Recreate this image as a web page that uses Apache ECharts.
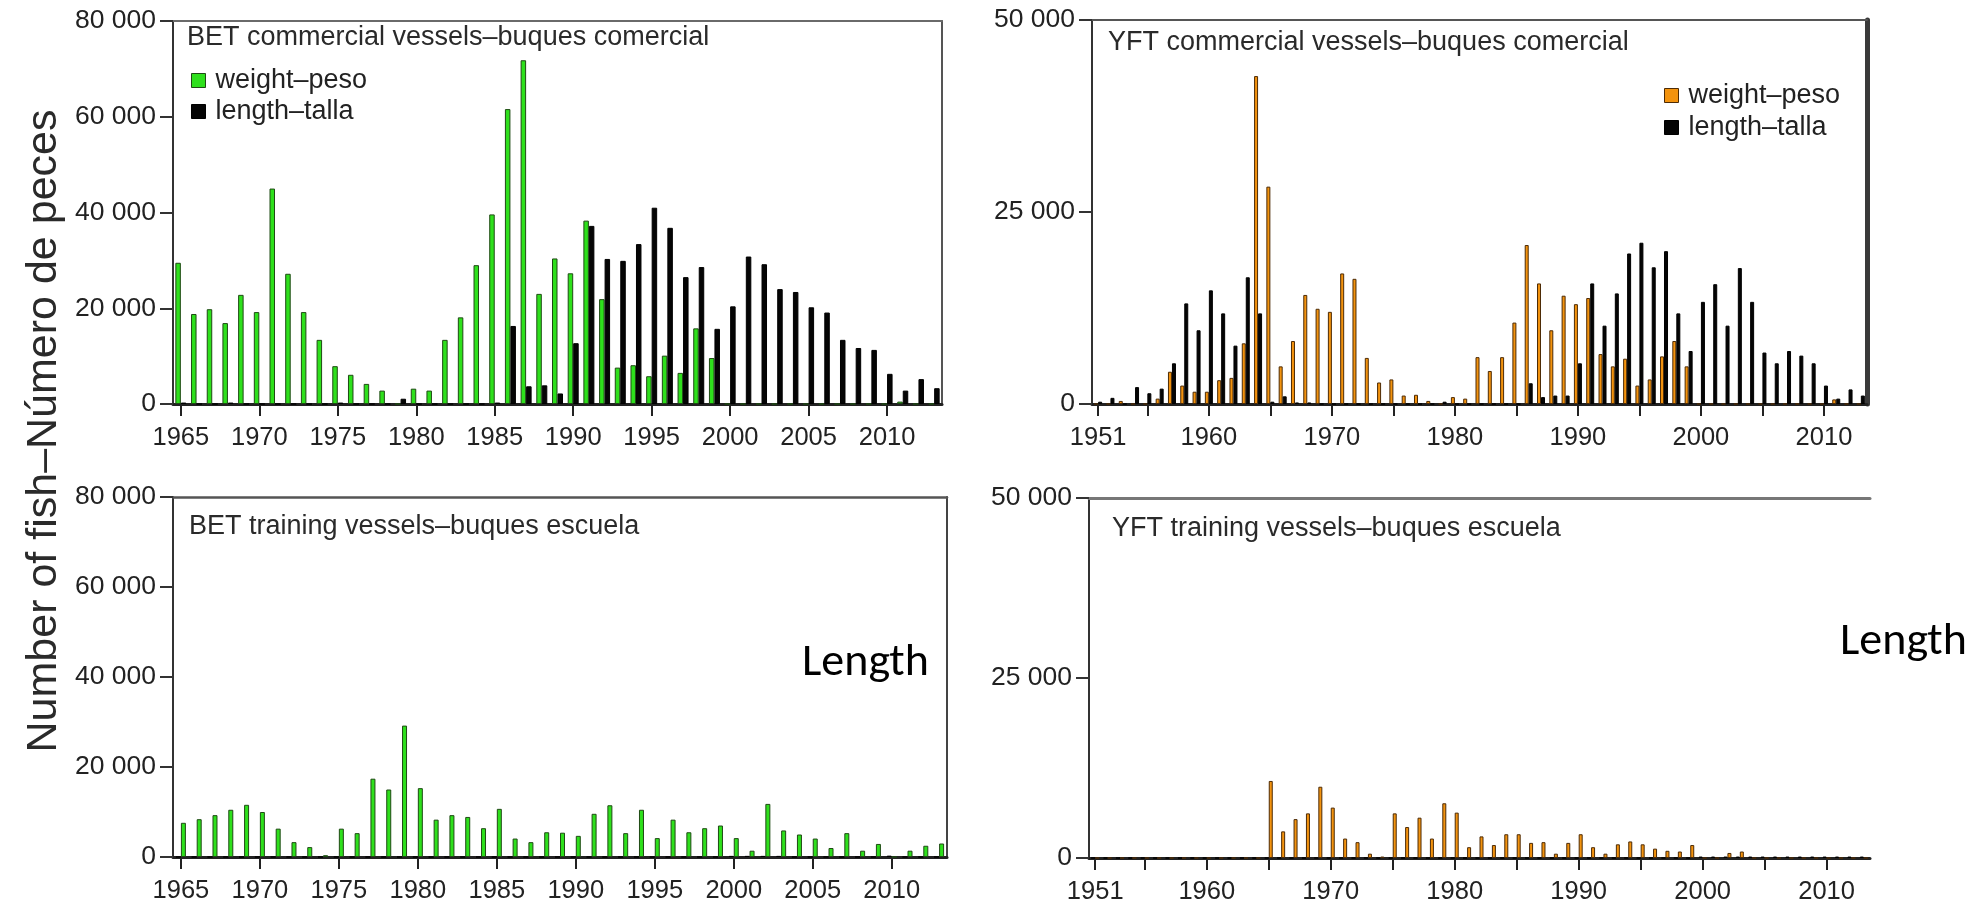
<!DOCTYPE html>
<html>
<head>
<meta charset="utf-8">
<script src="https://cdn.jsdelivr.net/npm/echarts@6/dist/echarts.min.js"></script>
<style>
  html, body { margin: 0; padding: 0; background: #ffffff; }
  #chart { width: 1980px; height: 909px; }
</style>
</head>
<body>
<div id="chart"></div>
<script>
// Years on the bigeye (BET) panels
const betYears = ['1965','1966','1967','1968','1969','1970','1971','1972','1973','1974',
  '1975','1976','1977','1978','1979','1980','1981','1982','1983','1984',
  '1985','1986','1987','1988','1989','1990','1991','1992','1993','1994',
  '1995','1996','1997','1998','1999','2000','2001','2002','2003','2004',
  '2005','2006','2007','2008','2009','2010','2011','2012','2013'];

// Years on the yellowfin (YFT) panels
const yftYears = ['1951','1952','1953','1954','1955','1956','1957','1958','1959','1960',
  '1961','1962','1963','1964','1965','1966','1967','1968','1969','1970',
  '1971','1972','1973','1974','1975','1976','1977','1978','1979','1980',
  '1981','1982','1983','1984','1985','1986','1987','1988','1989','1990',
  '1991','1992','1993','1994','1995','1996','1997','1998','1999','2000',
  '2001','2002','2003','2004','2005','2006','2007','2008','2009','2010',
  '2011','2012','2013'];

// BET, commercial vessels (number of fish)
const betComWeight = [29500,18800,19800,16900,22800,19200,45000,27200,19200,13400,
  7900,6100,4200,2800,0,3200,2800,13400,18100,29000,
  39600,61600,71800,23000,30400,27300,38300,21900,7600,8100,
  5800,10100,6500,15800,9600,0,0,0,0,0,
  0,0,0,0,0,0,500,0,0];
const betComLength = [300,0,0,300,0,0,0,0,0,0,
  300,0,0,0,1100,0,0,0,0,0,
  300,16300,3700,3900,2200,12700,37200,30300,29900,33400,
  41000,36800,26500,28600,15700,20400,30800,29200,24000,23400,
  20200,19100,13400,11700,11300,6300,2800,5200,3300];

// BET, training vessels
const betTrnWeight = [7600,8400,9300,10500,11600,10000,6300,3300,2200,400,
  6300,5300,17400,15000,29200,15300,8300,9300,8900,6400,
  10700,4100,3300,5500,5400,4700,9600,11500,5300,10500,
  4200,8300,5500,6400,7000,4200,1400,11800,5900,5000,
  4100,2000,5300,1400,2900,0,1400,2500,3000];
const betTrnLength = [0,0,0,0,0,0,0,0,0,0,
  0,0,0,0,0,0,0,0,0,0,
  0,0,0,0,0,0,0,0,0,0,
  0,0,0,0,0,250,250,250,250,0,
  0,0,0,0,0,300,0,0,0];

// YFT, commercial vessels
const yftComWeight = [0,0,400,0,0,700,4200,2400,1600,1600,
  3100,3400,7900,42700,28300,4900,8200,14200,12400,12000,
  17000,16300,6000,2800,3200,1100,1200,400,0,900,
  700,6100,4300,6100,10600,20700,15700,9600,14100,13000,
  13800,6500,4900,5900,2400,3200,6200,8200,4900,0,
  0,0,0,0,0,0,0,0,0,0,
  600,0,0];
const yftComLength = [300,800,0,2200,1400,2000,5300,13100,9600,14800,
  11800,7600,16500,11800,300,1000,200,200,0,0,
  0,0,0,0,0,0,0,0,300,0,
  0,0,0,0,0,2700,900,1100,1100,5300,
  15700,10200,14400,19600,21000,17800,19900,11800,6900,13300,
  15600,10200,17700,13300,6700,5300,6900,6300,5300,2400,
  700,1900,1100];

// YFT, training vessels
const yftTrnWeight = [0,0,0,0,0,0,0,0,0,0,
  0,0,0,0,10700,3700,5400,6200,9900,7000,
  2700,2200,600,200,6200,4300,5600,2700,7600,6300,
  1500,3000,1800,3300,3300,2100,2200,600,2100,3300,
  1500,600,1900,2300,1900,1300,1000,900,1800,0,
  0,700,900,0,0,0,0,0,0,0,
  0,0,0];
const yftTrnLength = [0,0,0,0,0,0,0,0,0,0,
  0,0,0,0,0,0,0,0,0,0,
  0,0,0,0,0,0,0,0,0,0,
  0,0,0,0,0,0,0,0,0,0,
  0,0,0,0,0,0,0,0,0,200,
  200,200,200,200,200,200,200,200,200,200,
  200,200,200];

const seriesNames = ['weight–peso', 'length–talla'];
const panelTitles = [
  'BET commercial vessels–buques comercial',
  'YFT commercial vessels–buques comercial',
  'BET training vessels–buques escuela',
  'YFT training vessels–buques escuela'
];
const yTitle = 'Number of fish–Número de peces';

const FONT = '"Liberation Sans", Arial, Helvetica, sans-serif';
const GREEN = { color: '#2ee01c', borderColor: '#1f4a14', borderWidth: 1 };
const ORANGE = { color: '#f3930e', borderColor: '#4d2b06', borderWidth: 1 };
const BLACK = { color: '#050505', borderColor: '#000000', borderWidth: 1 };

const groupThousands = v => String(v).replace(/\B(?=(\d{3})+(?!\d))/g, ' ');

// BET axes: tick and label every 5 years; YFT: ticks on 1951 and every 5 years, labels on 1951 and every 10
const every5 = 4;
const yftTick = (i, v) => i === 0 || (+v) % 5 === 0;
const yftLabel = (i, v) => i === 0 || (+v) % 10 === 0;

const panels = [
  { grid: { left: 173, top: 21, width: 769, height: 383 }, years: betYears, max: 80000, step: 20000,
    series: [[seriesNames[0], betComWeight, GREEN], [seriesNames[1], betComLength, BLACK]],
    barWidth: 5.5, tick: every5, label: every5,
    top: { color: '#6a6a6a', width: 2 }, right: { color: '#555555', width: 2 } },
  { grid: { left: 1092, top: 20, width: 775, height: 384 }, years: yftYears, max: 50000, step: 25000,
    series: [[seriesNames[0], yftComWeight, ORANGE], [seriesNames[1], yftComLength, BLACK]],
    barWidth: 4, tick: yftTick, label: yftLabel,
    top: { color: '#555555', width: 2 }, right: { color: '#3a3a3a', width: 5 } },
  { grid: { left: 173, top: 497, width: 774, height: 360 }, years: betYears, max: 80000, step: 20000,
    series: [[seriesNames[1], betTrnLength, BLACK], [seriesNames[0], betTrnWeight, GREEN]],
    barWidth: 5, tick: every5, label: every5,
    top: { color: '#555555', width: 2.5 }, right: { color: '#444444', width: 2 } },
  { grid: { left: 1089, top: 498, width: 781, height: 360 }, years: yftYears, max: 50000, step: 25000,
    series: [[seriesNames[1], yftTrnLength, BLACK], [seriesNames[0], yftTrnWeight, ORANGE]],
    barWidth: 4, tick: yftTick, label: yftLabel,
    top: { color: '#777777', width: 3 }, right: null }
];

const grid = [], xAxis = [], yAxis = [], series = [];
panels.forEach((p, i) => {
  grid.push(Object.assign({ containLabel: false }, p.grid));
  // bottom category axis with ticks and year labels
  xAxis.push({
    type: 'category', gridIndex: i, data: p.years, position: 'bottom',
    axisLine: { show: true, onZero: false, lineStyle: { color: '#222222', width: 3 } },
    axisTick: { show: true, alignWithLabel: true, interval: p.tick, length: 12,
                lineStyle: { color: '#222222', width: 2 } },
    axisLabel: { show: true, interval: p.label, margin: 21, fontSize: 25.5,
                 fontFamily: FONT, color: '#222222' },
    splitLine: { show: false }
  });
  // top frame line
  xAxis.push({
    type: 'category', gridIndex: i, data: p.years, position: 'top',
    axisLine: { show: !!p.top, onZero: false, lineStyle: p.top || {} },
    axisTick: { show: false }, axisLabel: { show: false }, splitLine: { show: false }
  });
  // left value axis
  yAxis.push({
    type: 'value', gridIndex: i, min: 0, max: p.max, interval: p.step, position: 'left',
    axisLine: { show: true, onZero: false, lineStyle: { color: '#333333', width: 2 } },
    axisTick: { show: true, length: 13, lineStyle: { color: '#333333', width: 2 } },
    axisLabel: { margin: 17, fontSize: 26.5, fontFamily: FONT, color: '#222222',
                 formatter: groupThousands },
    splitLine: { show: false }
  });
  // right frame line
  yAxis.push({
    type: 'value', gridIndex: i, min: 0, max: p.max, interval: p.step, position: 'right',
    axisLine: { show: !!p.right, onZero: false, lineStyle: p.right || {} },
    axisTick: { show: false }, axisLabel: { show: false }, splitLine: { show: false }
  });
  p.series.forEach(([name, data, style]) => {
    series.push({
      type: 'bar', name, data,
      xAxisIndex: 2 * i, yAxisIndex: 2 * i,
      barWidth: p.barWidth, barGap: '0%',
      itemStyle: style,
      emphasis: { disabled: true }
    });
  });
});

const legendBase = {
  orient: 'vertical', icon: 'rect', itemWidth: 14, itemHeight: 14, itemGap: 0,
  padding: 0, selectedMode: false
};
const legend = [
  Object.assign({}, legendBase, {
    left: 191, top: 65,
    textStyle: { fontSize: 27, fontFamily: FONT, color: '#222222', lineHeight: 31, padding: [0, 0, 0, 5] },
    data: [{ name: seriesNames[0], itemStyle: GREEN }, { name: seriesNames[1], itemStyle: BLACK }]
  }),
  Object.assign({}, legendBase, {
    left: 1664, top: 79.5,
    textStyle: { fontSize: 27, fontFamily: FONT, color: '#222222', lineHeight: 32, padding: [0, 0, 0, 5] },
    data: [{ name: seriesNames[0], itemStyle: ORANGE }, { name: seriesNames[1], itemStyle: BLACK }]
  })
];

const titleText = (text, x, y) => ({
  type: 'text', x, y, silent: true,
  style: { text, x: 0, y: 0, font: `27px ${FONT}`, fill: '#2a2a2a',
           align: 'left', verticalAlign: 'middle', textAlign: 'left', textVerticalAlign: 'middle' }
});
const sideNote = (x, y) => ({
  type: 'text', x, y, silent: true,
  style: { text: 'Length', x: 0, y: 0, font: '46px Carlito, Calibri, Lato, sans-serif', fill: '#000000',
           align: 'left', verticalAlign: 'middle', textAlign: 'left', textVerticalAlign: 'middle' }
});

const graphic = [
  titleText(panelTitles[0], 187, 37.5),
  titleText(panelTitles[1], 1108, 43),
  titleText(panelTitles[2], 189, 527),
  titleText(panelTitles[3], 1112, 528.5),
  {
    type: 'text', x: 44, y: 431, rotation: Math.PI / 2, silent: true,
    style: { text: yTitle, x: 0, y: 0, font: `43px ${FONT}`, fill: '#2a2a2a',
             align: 'center', verticalAlign: 'middle', textAlign: 'center', textVerticalAlign: 'middle' }
  },
  sideNote(802, 663),
  sideNote(1840, 642)
];

const chart = echarts.init(document.getElementById('chart'), null, { renderer: 'canvas' });
chart.setOption({
  animation: false,
  backgroundColor: '#ffffff',
  grid, xAxis, yAxis, series, legend, graphic,
  tooltip: { show: false }
});
</script>
</body>
</html>
